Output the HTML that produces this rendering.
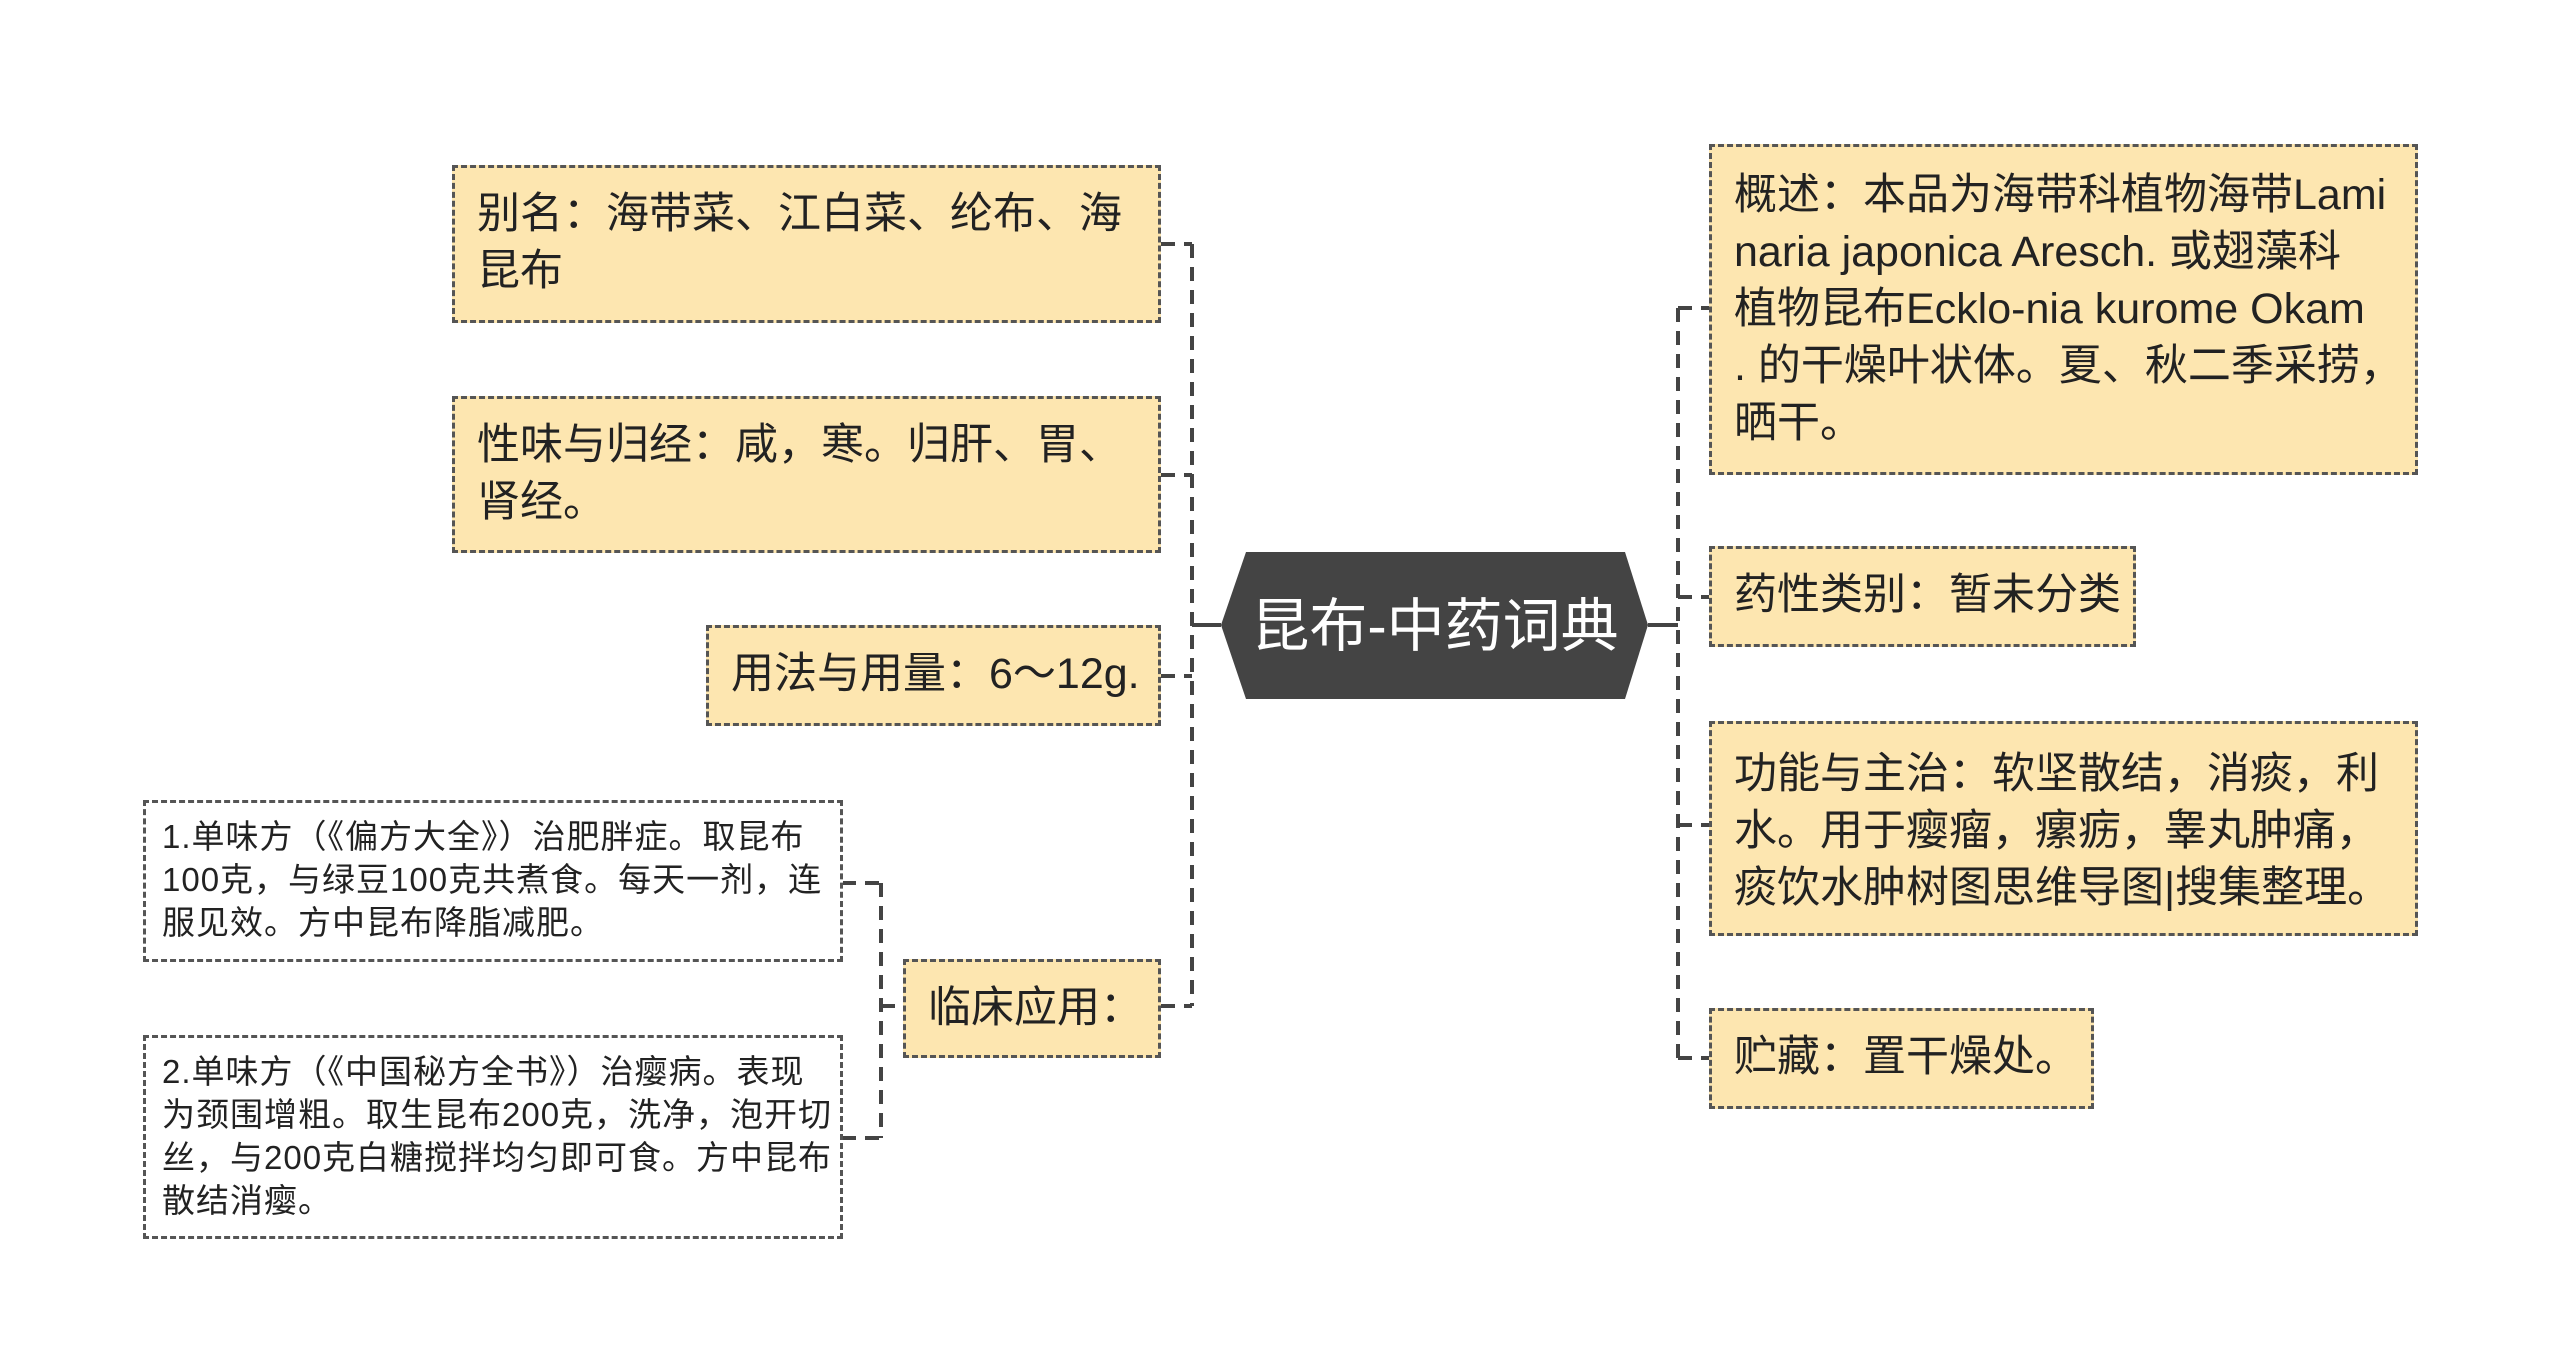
<!DOCTYPE html>
<html><head><meta charset="utf-8"><style>
html,body{margin:0;padding:0;background:#fff;}
body{width:2560px;height:1372px;position:relative;overflow:hidden;font-family:"Liberation Sans","Noto Sans CJK SC",sans-serif;}
.b{position:absolute;box-sizing:border-box;background:#fde6b0;border:3px dashed #555;color:#222;font-size:43px;line-height:57px;padding:18px 22px;white-space:nowrap;}
.s{position:absolute;box-sizing:border-box;background:#fff;border:3px dashed #555;color:#222;font-size:33px;letter-spacing:1px;line-height:43px;padding:12px 16px;white-space:nowrap;}
svg{position:absolute;left:0;top:0;}
</style></head><body>
<svg width="2560" height="1372">
<g stroke="#444" stroke-width="4" fill="none" stroke-dasharray="14,9">
<path d="M1192 244 V1006"/>
<path d="M1161 244 H1192 M1161 475 H1192 M1161 676 H1192 M1161 1006 H1192"/>
<path d="M881 883 V1138"/>
<path d="M842 883 H881 M842 1138 H881 M881 1006 H903"/>
<path d="M1678 308 V1058"/>
<path d="M1678 308 H1709 M1678 597 H1709 M1678 825 H1709 M1678 1058 H1709"/>
</g>
<g stroke="#444" stroke-width="4">
<path d="M1192 625 H1221 M1648 625 H1678"/>
</g>
<polygon points="1221,625 1246,552 1625,552 1648,625 1625,699 1246,699" fill="#444"/>
<text x="1435" y="646" fill="#fff" font-size="58" text-anchor="middle" font-family="Liberation Sans, Noto Sans CJK SC, sans-serif">昆布-中药词典</text>
</svg>
<div class="b" style="left:452px;top:165px;width:709px;height:158px;">别名：海带菜、江白菜、纶布、海<br>昆布</div>
<div class="b" style="left:452px;top:396px;width:709px;height:157px;">性味与归经：咸，寒。归肝、胃、<br>肾经。</div>
<div class="b" style="left:706px;top:625px;width:455px;height:101px;">用法与用量：6～12g.</div>
<div class="b" style="left:903px;top:959px;width:258px;height:99px;">临床应用：</div>
<div class="s" style="left:143px;top:800px;width:700px;height:162px;">1.单味方（《偏方大全》）治肥胖症。取昆布<br>100克，与绿豆100克共煮食。每天一剂，连<br>服见效。方中昆布降脂减肥。</div>
<div class="s" style="left:143px;top:1035px;width:700px;height:204px;">2.单味方（《中国秘方全书》）治瘿病。表现<br>为颈围增粗。取生昆布200克，洗净，泡开切<br>丝，与200克白糖搅拌均匀即可食。方中昆布<br>散结消瘿。</div>
<div class="b" style="left:1709px;top:144px;width:709px;height:331px;padding-top:20px;">概述：本品为海带科植物海带Lami<br>naria japonica Aresch. 或翅藻科<br>植物昆布Ecklo-nia kurome Okam<br>. 的干燥叶状体。夏、秋二季采捞，<br>晒干。</div>
<div class="b" style="left:1709px;top:546px;width:427px;height:101px;">药性类别：暂未分类</div>
<div class="b" style="left:1709px;top:721px;width:709px;height:215px;padding-top:22px;">功能与主治：软坚散结，消痰，利<br>水。用于瘿瘤，瘰疬，睾丸肿痛，<br>痰饮水肿树图思维导图|搜集整理。</div>
<div class="b" style="left:1709px;top:1008px;width:385px;height:101px;">贮藏：置干燥处。</div>
</body></html>
